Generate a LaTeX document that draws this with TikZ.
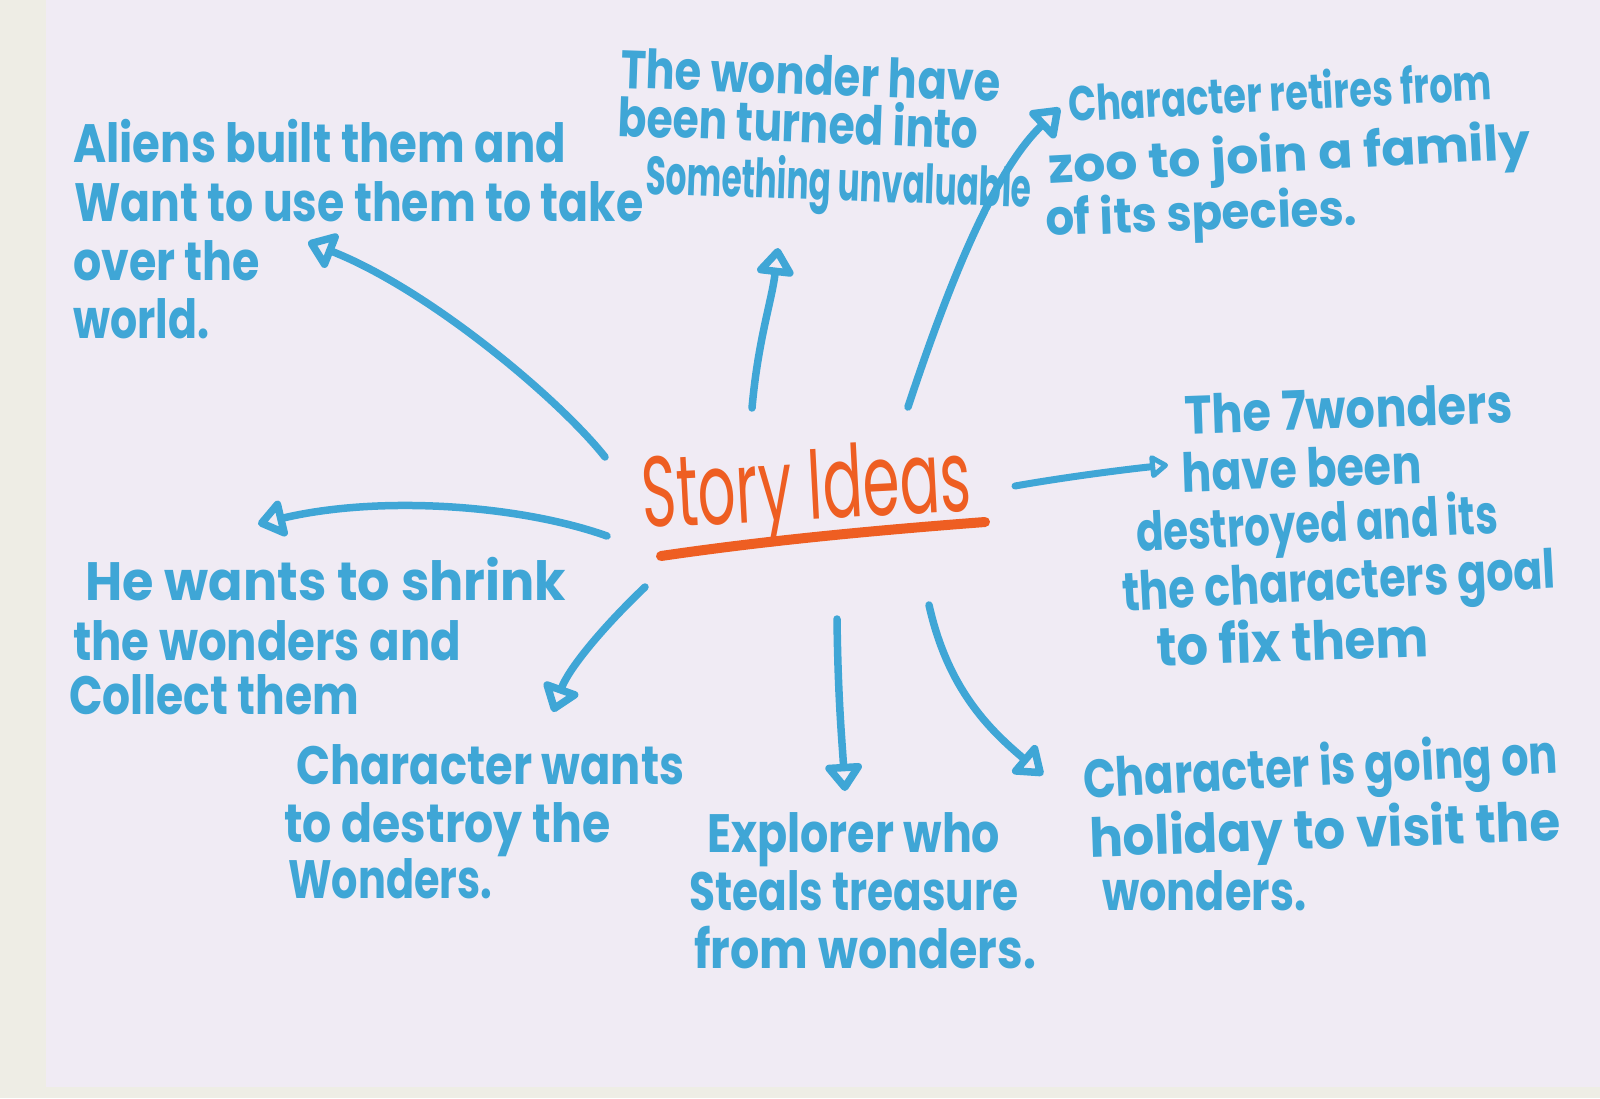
\documentclass[tikz,border=0pt]{standalone}
\usepackage{fontspec}
\setmainfont{Poppins}
\usepackage{graphicx}
\usetikzlibrary{arrows.meta}
\definecolor{ink}{HTML}{3FA6D6}
\definecolor{orng}{HTML}{EE5E22}
\definecolor{paper}{HTML}{F0EBF4}
\definecolor{cream}{HTML}{EEEDE5}
\newcommand{\fitw}[2]{\resizebox{#1}{\height}{#2}}
\begin{document}
\begin{tikzpicture}[x=1pt,y=-1pt,
  hand/.style={text=ink, font=\fontsize{54}{58}\selectfont\bfseries, inner sep=0pt, anchor=base west},
  handsm/.style={hand, font=\fontsize{49}{52}\selectfont\bfseries},
  title/.style={text=orng, font=\fontsize{100}{100}\selectfont, inner sep=0pt, anchor=base west},
  pen/.style={draw=ink, line width=7.5pt, line cap=round, line join=round,
    -{Triangle[open, length=30pt, width=42pt, round]}},
  smallpen/.style={draw=ink, line width=7pt, line cap=round, line join=round,
    -{Triangle[open, length=20pt, width=26pt, round]}}]
\useasboundingbox (0,0) rectangle (1600,1098);
\fill[cream] (0,0) rectangle (1600,1098);
\fill[paper] (46,0) rectangle (1600,1087);

% centre
\node[title, rotate=3] (title) at (643,528) {\fitw{330pt}{Story Ideas}};
\coordinate (ulA) at (661,556);
\coordinate (ulB) at (985,522);
\draw[orng, line width=10pt, line cap=round] (ulA) .. controls (770,540) and (880,530) .. (ulB);

% top left
\node[hand] (a1) at (73,162) {\fitw{493pt}{Aliens built them and}};
\node[hand] (a2) at (74,221) {\fitw{569pt}{Want to use them to take}};
\node[hand] (a3) at (73,280) {\fitw{187pt}{over the}};
\node[hand] (a4) at (73,338) {\fitw{136pt}{world.}};

% top middle
\node[hand, rotate=-2] (b1) at (620,88) {\fitw{380pt}{The wonder have}};
\node[hand, rotate=-2] (b2) at (617,136) {\fitw{361pt}{been turned into}};
\node[hand, rotate=-2] (b3) at (645,194) {\fitw{386pt}{Something unvaluable}};

% top right
\node[handsm, rotate=3] (c1) at (1069,122) {\fitw{424pt}{Character retires from}};
\node[handsm, rotate=3] (c2) at (1049,184) {\fitw{483pt}{zoo to join a family}};
\node[handsm, rotate=2] (c3) at (1046,236) {\fitw{311pt}{of its species.}};

% right
\node[hand, rotate=2] (d1) at (1185,434) {\fitw{328pt}{The 7wonders}};
\node[hand, rotate=2] (d2) at (1182,492) {\fitw{240pt}{have been}};
\node[hand, rotate=3] (d3) at (1137,552) {\fitw{362pt}{destroyed and its}};
\node[hand, rotate=3] (d4) at (1123,611) {\fitw{434pt}{the characters goal}};
\node[hand, rotate=2] (d5) at (1157,666) {\fitw{272pt}{to fix them}};

% left
\node[hand] (e1) at (85,600) {\fitw{481pt}{He wants to shrink}};
\node[hand] (e2) at (73,660) {\fitw{388pt}{the wonders and}};
\node[hand] (e3) at (69,714) {\fitw{290pt}{Collect them}};

% bottom left
\node[hand] (f1) at (296,784) {\fitw{388pt}{Character wants}};
\node[hand] (f2) at (284,842) {\fitw{326pt}{to destroy the}};
\node[hand] (f3) at (288,898) {\fitw{204pt}{Wonders.}};

% bottom middle
\node[hand] (g1) at (707,852) {\fitw{293pt}{Explorer who}};
\node[hand] (g2) at (689,910) {\fitw{329pt}{Steals treasure}};
\node[hand] (g3) at (694,968) {\fitw{342pt}{from wonders.}};

% bottom right
\node[hand, rotate=3] (h1) at (1084,798) {\fitw{475pt}{Character is going on}};
\node[hand, rotate=2] (h2) at (1090,857) {\fitw{471pt}{holiday to visit the}};
\node[hand] (h3) at (1102,910) {\fitw{204pt}{wonders.}};

% arrow ends
\coordinate (sA) at (605,457);  \coordinate (tA) at (308,242);
\coordinate (sB) at (752,408);  \coordinate (tB) at (778,248);
\coordinate (sC) at (908,407);  \coordinate (tC) at (1060,108);
\coordinate (sD) at (1015,486); \coordinate (tD) at (1168,465);
\coordinate (sE) at (607,536);  \coordinate (tE) at (258,524);
\coordinate (sF) at (645,587);  \coordinate (tF) at (553,712);
\coordinate (sG) at (837,619);  \coordinate (tG) at (845,791);
\coordinate (sH) at (929,605);  \coordinate (tH) at (1043,775);

\draw[pen] (sA) .. controls (560,400) and (430,290) .. (tA);
\draw[pen] (sB) .. controls (758,340) and (772,300) .. (tB);
\draw[pen] (sC) .. controls (950,280) and (995,170) .. (tC);
\draw[smallpen] (sD) .. controls (1060,478) and (1120,470) .. (tD);
\draw[pen] (sE) .. controls (520,505) and (380,495) .. (tE);
\draw[pen] (sF) .. controls (600,630) and (568,670) .. (tF);
\draw[pen] (sG) .. controls (838,700) and (842,740) .. (tG);
\draw[pen] (sH) .. controls (948,690) and (990,730) .. (tH);
\end{tikzpicture}
\end{document}
